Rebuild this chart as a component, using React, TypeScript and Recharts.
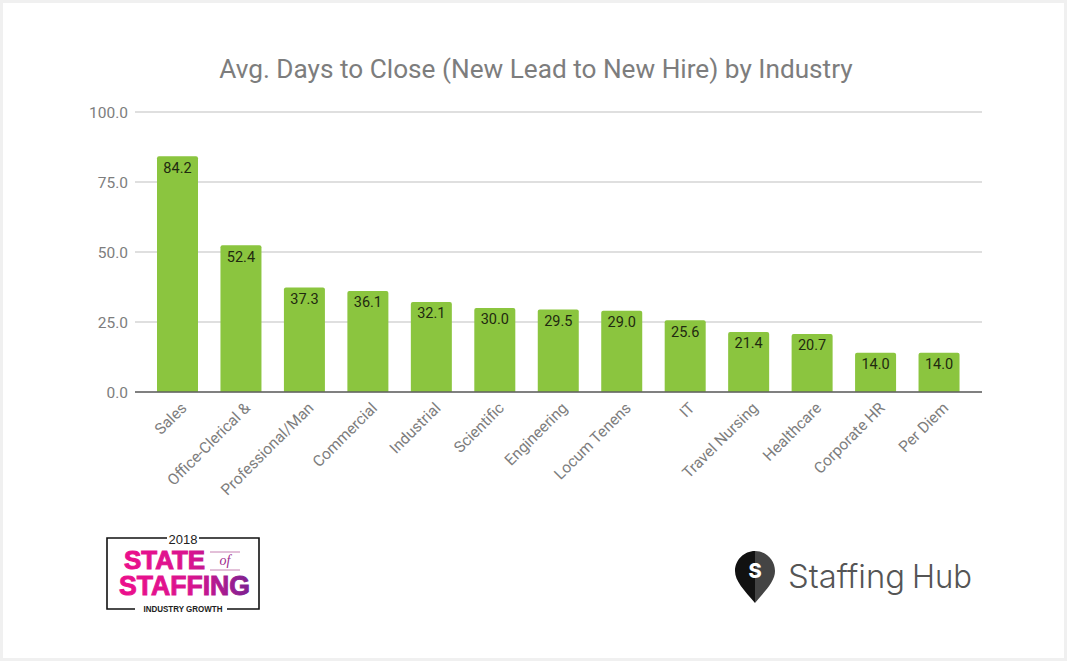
import { Bar, BarChart, CartesianGrid, LabelList, XAxis, YAxis } from "recharts";

const industries = [
  "Sales",
  "Office-Clerical &",
  "Professional/Man",
  "Commercial",
  "Industrial",
  "Scientific",
  "Engineering",
  "Locum Tenens",
  "IT",
  "Travel Nursing",
  "Healthcare",
  "Corporate HR",
  "Per Diem",
];
const avgDays = [84.2, 52.4, 37.3, 36.1, 32.1, 30.0, 29.5, 29.0, 25.6, 21.4, 20.7, 14.0, 14.0];
const yTicks = [0, 25, 50, 75, 100];

const FONT = "Roboto, sans-serif";
const GRAY = "#7d7d7d";

function SlantedTick({ x, y, payload }: any) {
  return (
    <text
      x={x + 10}
      y={y + 9}
      transform={`rotate(-45 ${x + 10} ${y + 9})`}
      textAnchor="end"
      fontFamily={FONT}
      fontSize={15.5}
      fill={GRAY}
    >
      {payload.value}
    </text>
  );
}

function StateOfStaffingLogo() {
  return (
    <svg width={1067} height={661} style={{ position: "absolute", left: 0, top: 0 }}>
      <defs>
        <linearGradient id="sos" gradientUnits="userSpaceOnUse" x1="119" y1="0" x2="250" y2="0">
          <stop offset="0%" stopColor="#ec0f8c" />
          <stop offset="55%" stopColor="#d9148f" />
          <stop offset="100%" stopColor="#7d2191" />
        </linearGradient>
      </defs>
      <path d="M167 538H107V609H135M227 609H259V538H199" fill="none" stroke="#111" strokeWidth={1.6} />
      <text x={183} y={544} textAnchor="middle" fontFamily="Liberation Sans" fontSize={13} fill="#222">
        2018
      </text>
      <text x={124} y={569} textLength={81} lengthAdjust="spacingAndGlyphs" fontFamily="Liberation Sans" fontWeight={700}
        fontSize={25} fill="url(#sos)" stroke="url(#sos)" strokeWidth={1}>
        STATE
      </text>
      <text x={119} y={595} textLength={131} lengthAdjust="spacingAndGlyphs" fontFamily="Liberation Sans" fontWeight={700}
        fontSize={28} fill="url(#sos)" stroke="url(#sos)" strokeWidth={1}>
        STAFFING
      </text>
      <path d="M210 552H240M210 570H240" stroke="#b9609f" strokeWidth={0.8} />
      <text x={225} y={565} textAnchor="middle" fontFamily="Liberation Serif" fontStyle="italic" fontSize={14} fill="#a02a8e">
        of
      </text>
      <text x={183} y={612} textAnchor="middle" textLength={79} lengthAdjust="spacingAndGlyphs" fontFamily="Liberation Sans"
        fontWeight={700} fontSize={8.5} fill="#222">
        INDUSTRY GROWTH
      </text>
    </svg>
  );
}

function StaffingHubLogo() {
  return (
    <svg width={1067} height={661} style={{ position: "absolute", left: 0, top: 0 }}>
      <path d="M755 551C744 551 735 560 735 571C735 581 744 590 755 603Z" fill="#111" />
      <path d="M755 551C766 551 775 560 775 571C775 581 766 590 755 603Z" fill="#444" />
      <text x={755} y={578} textAnchor="middle" fontFamily="Inter" fontWeight={800} fontSize={20} fill="#fff">
        S
      </text>
      <text x={788} y={588} textLength={117} lengthAdjust="spacingAndGlyphs" fontFamily="Inter" fontWeight={300}
        fontSize={33} fill="#555">
        Staffing
      </text>
      <text x={912} y={588} textLength={60} lengthAdjust="spacingAndGlyphs" fontFamily="Inter" fontWeight={300}
        fontSize={33} fill="#555">
        Hub
      </text>
    </svg>
  );
}

export default function App() {
  const rows = industries.map((name, i) => ({ name, days: avgDays[i] }));
  return (
    <div
      style={{
        position: "absolute",
        left: 0,
        top: 0,
        width: 1067,
        height: 661,
        boxSizing: "border-box",
        border: "3px solid #f0f0f0",
        background: "#fff",
      }}
    >
      <div style={{ position: "absolute", left: -3, top: -3, width: 1067, height: 661 }}>
        <div
          style={{
            position: "absolute",
            left: 0,
            width: 1072,
            top: 54,
            textAlign: "center",
            fontFamily: FONT,
            fontSize: 26.2,
            lineHeight: "30px",
            color: GRAY,
          }}
        >
          Avg. Days to Close (New Lead to New Hire) by Industry
        </div>
        <BarChart
          width={1067}
          height={661}
          data={rows}
          margin={{ top: 112, right: 85, bottom: 0, left: 85 }}
          barSize={41}
          style={{ position: "absolute", left: 0, top: 0 }}
        >
          <CartesianGrid vertical={false} stroke="#d4d4d4" strokeWidth={1.3} />
          <XAxis
            dataKey="name"
            interval={0}
            height={269}
            padding={{ left: 11, right: 11 }}
            tick={<SlantedTick />}
            tickLine={false}
            axisLine={{ stroke: "#616161", strokeWidth: 1.5 }}
          />
          <YAxis
            width={50}
            domain={[0, 100]}
            ticks={yTicks}
            tickFormatter={(v: number) => v.toFixed(1)}
            tick={{ fontFamily: FONT, fontSize: 15.5, fill: GRAY }}
            tickLine={false}
            axisLine={false}
            tickMargin={1}
          />
          <Bar dataKey="days" fill="#8bc53f" radius={[2, 2, 0, 0]} isAnimationActive={false}>
            <LabelList
              dataKey="days"
              position="insideTop"
              offset={6}
              formatter={(v: number) => v.toFixed(1)}
              style={{ fontFamily: FONT, fontSize: 14.5, fill: "#1f2a10" }}
            />
          </Bar>
        </BarChart>
        <StateOfStaffingLogo />
        <StaffingHubLogo />
      </div>
    </div>
  );
}
